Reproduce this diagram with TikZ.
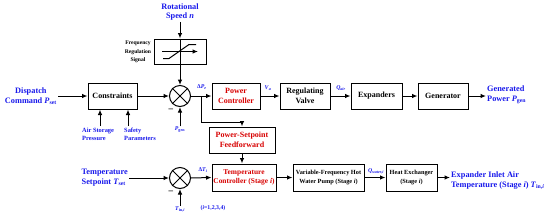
\documentclass[tikz,border=0pt]{standalone}
\usepackage{fontspec}
\setmainfont{Liberation Serif}
\usetikzlibrary{arrows.meta}
\definecolor{sigBlue}{RGB}{25,25,235}
\definecolor{ctrlRed}{RGB}{215,0,0}
\tikzset{
    BLOCK/.style={draw=black, shape=rectangle, line width=1pt,
        minimum height=26pt, inner sep=1pt, align=center,
        font={\fontsize{8}{9.5}\selectfont\bfseries}},
    RED_BLOCK/.style={BLOCK, text=ctrlRed},
    SMALL_BLOCK/.style={BLOCK, font={\fontsize{6.3}{8.5}\selectfont\bfseries}},
    SUM/.style={draw=black, shape=circle, minimum size=21pt, inner sep=0pt,
        line width=1pt},
    SIGNAL/.style={text=sigBlue, inner sep=1pt, align=left,
        font={\fontsize{8.3}{9.8}\selectfont\bfseries}},
    SMALL_SIGNAL/.style={SIGNAL, font={\fontsize{6.4}{7.6}\selectfont\bfseries}},
    TAG/.style={SIGNAL, inner sep=0.5pt, font={\fontsize{5.8}{6.5}\selectfont\bfseries}},
    NOTE/.style={inner sep=1pt, align=center,
        font={\fontsize{5.6}{8.3}\selectfont\bfseries}},
    EDGE/.style={draw=black, line width=1pt},
    ARROW/.style={EDGE, -{Latex[length=5.5pt,width=4.5pt]}}
}
\pgfdeclarelayer{edgelayer}
\pgfdeclarelayer{nodelayer}
\pgfsetlayers{edgelayer,nodelayer,main}

\begin{document}
\begin{tikzpicture}[x=1pt, y=-1pt]
    \useasboundingbox (0,0) rectangle (550,218);
    \begin{pgfonlayer}{nodelayer}
        % power loop
        \node [SIGNAL, anchor=east, align=center] (1) at (58,96) {Dispatch\\Command \textit{P}\textsubscript{set}};
        \node [BLOCK, minimum width=49pt] (2) at (112.5,96) {Constraints};
        \node [SUM] (3) at (180,96) {};
        \node [RED_BLOCK, minimum width=48pt] (4) at (236,96) {Power\\Controller};
        \node [BLOCK, minimum width=50pt] (5) at (305,96) {Regulating\\Valve};
        \node [BLOCK, minimum width=51pt] (6) at (376.5,96) {Expanders};
        \node [BLOCK, minimum width=50pt] (7) at (443,96) {Generator};
        \node [SIGNAL, anchor=west] (8) at (486,95) {Generated\\Power \textit{P}\textsubscript{gen}};
        \node [BLOCK, minimum width=52pt, minimum height=25pt] (9) at (180,51.5) {};
        \node [NOTE] (10) at (138,52) {Frequency\\Regulation\\Signal};
        \node [SIGNAL, align=center] (11) at (180,12) {Rotational\\Speed \textit{n}};
        \node [TAG] (12) at (180,130) {\textit{P}\textsubscript{gen}};
        \node [inner sep=0pt, font=\small] (13) at (171,110) {\textbf{--}};
        \node [SMALL_SIGNAL, anchor=north west] (14) at (81,127) {Air Storage\\Pressure};
        \node [SMALL_SIGNAL, anchor=north west] (15) at (123,127) {Safety\\Parameters};
        \coordinate (16) at (100,126);
        \coordinate (17) at (128,126);
        \node [TAG] (18) at (202,87) {Δ\textit{P}\textsubscript{\textit{e}}};
        \coordinate (19) at (201,96);
        \coordinate (20) at (201,122);
        \node [TAG] (34) at (268,88) {\textit{V}\textsubscript{\textit{a}}};
        \node [TAG] (35) at (341,88) {\textit{Q}\textsubscript{\textit{air}}};
        % temperature loop
        \node [RED_BLOCK, minimum width=66pt] (21) at (242,140) {Power-Setpoint\\Feedforward};
        \node [RED_BLOCK, minimum width=64pt, minimum height=27pt,
            font={\fontsize{7.4}{9}\selectfont\bfseries}] (22) at (244,177.5) {Temperature\\Controller (Stage \textit{i})};
        \node [SUM] (24) at (180,178) {};
        \node [SIGNAL, anchor=east] (25) at (129,178) {Temperature\\Setpoint \textit{T}\textsubscript{set}};
        \node [TAG] (26) at (180,209) {\textit{T}\textsubscript{in,\textit{i}}};
        \node [inner sep=0pt, font=\small] (27) at (171,192) {\textbf{--}};
        \node [TAG] (28) at (213,208) {(\textit{i}=1,2,3,4)};
        \node [TAG] (29) at (203,170) {Δ\textit{T}\textsubscript{\textit{i}}};
        \node [SMALL_BLOCK, minimum width=71pt, minimum height=27pt] (30) at (328.5,177.5) {Variable-Frequency Hot\\Water Pump (Stage \textit{i})};
        \node [SMALL_BLOCK, minimum width=51pt, minimum height=27pt] (31) at (411.5,177.5) {Heat Exchanger\\(Stage \textit{i})};
        \node [TAG] (32) at (376,171) {\textit{Q}\textsubscript{\textit{water,i}}};
        \node [SIGNAL, anchor=west] (33) at (450,181) {Expander Inlet Air\\Temperature (Stage \textit{i}) \textit{T}\textsubscript{in,\textit{i}}};
    \end{pgfonlayer}
    \begin{pgfonlayer}{edgelayer}
        \draw[EDGE] (3.45) to (3.225);
        \draw[EDGE] (3.135) to (3.315);
        \draw[EDGE] (24.45) to (24.225);
        \draw[EDGE] (24.135) to (24.315);
        % symbol inside the frequency block
        \draw[EDGE] (9.north) to (9.south);
        \draw[ARROW] ([xshift=-18pt]9.center) to ([xshift=18pt]9.center);
        \draw[EDGE] ([shift={(-17pt,-7pt)}]9.center) -- ++(6,0) -- ++(20,-14) -- ++(7,0);
        \draw[ARROW] (1.east) to (2.west);
        \draw[ARROW] (2.east) to (3.west);
        \draw[ARROW] (11.south) to (9.north);
        \draw[ARROW] (9.south) to (3.north);
        \draw[ARROW] (12.north) to (3.south);
        \draw[ARROW] (16) to (16 |- 2.south);
        \draw[ARROW] (17) to (17 |- 2.south);
        \draw[ARROW] (3.east) to (4.west);
        \draw[ARROW] (19) -- (20) -| (21.north);
        \draw[ARROW] (4.east) to (5.west);
        \draw[ARROW] (5.east) to (6.west);
        \draw[ARROW] (6.east) to (7.west);
        \draw[ARROW] (7.east) to (7.east -| 8.west);
        \draw[ARROW] (21.south) to (21.south |- 22.north);
        \draw[ARROW] (25.east) to (24.west);
        \draw[ARROW] (26.north) to (24.south);
        \draw[ARROW] (24.east) to (22.west);
        \draw[ARROW] (22.east) to (30.west);
        \draw[ARROW] (30.east) to (31.west);
        \draw[ARROW] (31.east) to (31.east -| 33.west);
    \end{pgfonlayer}
\end{tikzpicture}
\end{document}
